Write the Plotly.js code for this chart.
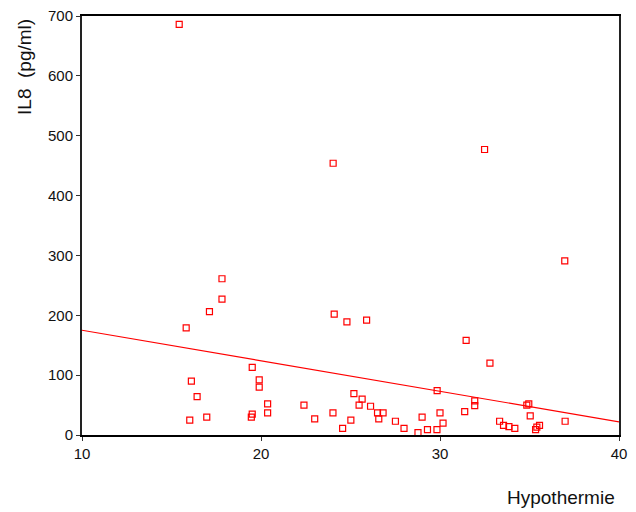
<!DOCTYPE html>
<html>
<head>
<meta charset="utf-8">
<script src="https://cdn.plot.ly/plotly-3.0.1.min.js"></script>
<style>html,body{margin:0;padding:0;background:#fff;}#chart{width:636px;height:512px;}</style>
</head>
<body>
<div id="chart"></div>
<script>
// Hypothermie (x) vs IL8 (pg/ml) (y)
var hypothermie = [15.43, 24.03, 32.49, 36.97, 17.82, 17.82, 17.12, 15.82, 24.09, 24.80,
  25.90, 31.46, 32.79, 29.84, 19.51, 16.11, 19.90, 19.90, 16.43, 20.37,
  22.40, 20.37, 19.51, 19.46, 24.02, 16.97, 16.02, 23.00, 24.56, 25.19,
  25.65, 25.48, 26.12, 26.51, 26.82, 26.58, 27.51, 25.02, 27.99, 29.00,
  30.00, 30.17, 28.77, 29.30, 29.83, 31.38, 31.94, 31.94, 33.33, 33.55,
  33.85, 34.18, 34.85, 34.96, 35.04, 35.56, 35.41, 35.34, 36.99];
var il8 = [686, 454, 477, 291, 261, 227, 206, 179, 202, 189,
  192, 158, 120, 74, 113, 90, 92, 80, 64, 52,
  50, 37, 35, 30, 37, 30, 25, 27, 11, 69,
  60, 50, 48, 37, 37, 27, 23, 25, 11, 30,
  37, 20, 4, 9, 9, 39, 57, 49, 23, 16,
  14, 11, 50, 52, 32, 16, 13, 9, 23];
// Fitted regression line
var fitX = [10, 40];
var fitY = [175, 22];
var xTicks = [10, 20, 30, 40];
var yTicks = [0, 100, 200, 300, 400, 500, 600, 700];

var traces = [
  {x: fitX, y: fitY, type: 'scatter', mode: 'lines',
   line: {color: '#ff0000', width: 1.2}, hoverinfo: 'skip'},
  {x: hypothermie, y: il8, type: 'scatter', mode: 'markers', cliponaxis: false,
   marker: {symbol: 'square-open', size: 6, color: '#ff0000', line: {width: 1.2, color: '#ff0000'}}}
];

var layout = {
  width: 636, height: 512,
  margin: {l: 82, r: 17, t: 16, b: 77},
  paper_bgcolor: '#ffffff', plot_bgcolor: '#ffffff',
  showlegend: false,
  font: {family: 'Liberation Sans, Arial, sans-serif', size: 13, color: '#111'},
  xaxis: {
    range: [10, 40], tickvals: xTicks, ticktext: xTicks.map(String),
    showgrid: false, zeroline: false,
    showline: true, linecolor: '#000', linewidth: 2, mirror: true,
    ticks: 'outside', ticklen: 4, tickcolor: '#333', tickwidth: 1,
    tickfont: {size: 15, color: '#111'}
  },
  yaxis: {
    range: [0, 700], tickvals: yTicks, ticktext: yTicks.map(String),
    showgrid: false, zeroline: false,
    showline: true, linecolor: '#222', linewidth: 2, mirror: true,
    ticks: 'outside', ticklen: 4, tickcolor: '#333', tickwidth: 1,
    tickfont: {size: 15, color: '#111'}
  },
  annotations: [{
    text: 'Hypothermie', xref: 'paper', yref: 'paper', x: 0.997, y: -0.148,
    xanchor: 'right', yanchor: 'middle', showarrow: false,
    font: {size: 19, color: '#111'}
  }, {
    text: 'IL8  (pg/ml)', xref: 'paper', yref: 'paper', x: -0.1067, y: 0.997,
    xanchor: 'center', yanchor: 'top', textangle: -90, showarrow: false,
    font: {size: 19, color: '#111'}
  }]
};

Plotly.newPlot('chart', traces, layout, {displayModeBar: false, staticPlot: true});
</script>
</body>
</html>
